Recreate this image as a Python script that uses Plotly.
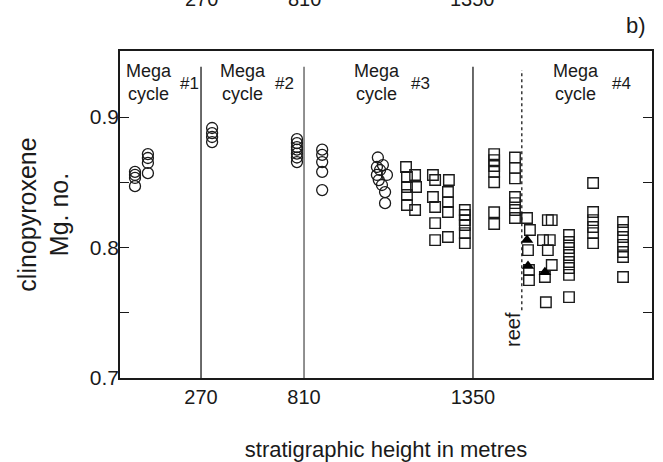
import numpy as np
import plotly.graph_objects as go

# ---- axis scale (schematic, piecewise in stratigraphic height) ----
H_BREAKS = [0, 270, 810, 1350, 1900]          # metres
AX_BREAKS = [0.0, 0.1523, 0.3459, 0.6635, 1.0]  # relative axis position
X_TICKS = [270, 810, 1350]
X_TICK_TEXT = ["270", "810", "1350"]

def pos(h):
    return np.interp(np.asarray(h, dtype=float), H_BREAKS, AX_BREAKS)

# ---- data: open circles (megacycles 1-3) ----
circ_h = [50, 50, 50, 50, 93, 93, 93, 93,
          328, 328, 328, 328,
          773, 773, 773, 773, 773, 773, 773,
          868, 868, 868, 868, 868,
          1046, 1043, 1053, 1062, 1075, 1043, 1049, 1059, 1069, 1069]
circ_mg = [0.858, 0.8556, 0.8533, 0.847, 0.8716, 0.8686, 0.8648, 0.857,
           0.8916, 0.8877, 0.8847, 0.8808,
           0.883, 0.880, 0.877, 0.875, 0.872, 0.869, 0.8655,
           0.875, 0.871, 0.8655, 0.858, 0.844,
           0.869, 0.8617, 0.8594, 0.8632, 0.8556, 0.8556, 0.8517, 0.8479, 0.8425, 0.834]

# ---- data: open squares ----
sq_h = [1136, 1139, 1139, 1139, 1139, 1165, 1168, 1165,
        1222, 1229, 1222, 1229, 1229, 1229,
        1273, 1270, 1270, 1270, 1270,
        1324, 1324, 1324, 1324, 1324, 1324,
        1415, 1415, 1415, 1415, 1415, 1415, 1415,
        1479, 1479, 1479, 1479, 1479, 1479, 1479,
        1516, 1525, 1519, 1522, 1522,
        1580, 1592, 1565, 1586, 1580, 1592, 1571, 1574,
        1645, 1645, 1645, 1645, 1645, 1645, 1645, 1645,
        1719, 1719, 1719, 1719, 1719, 1719,
        1811, 1811, 1811, 1811, 1811, 1811, 1811]
sq_mg = [0.8617, 0.854, 0.8464, 0.8402, 0.8326, 0.8556, 0.8464, 0.8287,
         0.8556, 0.8517, 0.8387, 0.831, 0.8187, 0.8057,
         0.8517, 0.8425, 0.8348, 0.8272, 0.808,
         0.8287, 0.8249, 0.821, 0.8172, 0.811, 0.8034,
         0.8716, 0.867, 0.8625, 0.858, 0.850, 0.827, 0.818,
         0.869, 0.861, 0.853, 0.8387, 0.834, 0.8287, 0.8226,
         0.8226, 0.8134, 0.798, 0.7828, 0.775,
         0.821, 0.821, 0.8057, 0.8057, 0.798, 0.7866, 0.7774, 0.758,
         0.8096, 0.8042, 0.7996, 0.7943, 0.7889, 0.7843, 0.779, 0.762,
         0.8494, 0.8272, 0.821, 0.8157, 0.811, 0.8034,
         0.8195, 0.8134, 0.808, 0.802, 0.7966, 0.7927, 0.7774]

# ---- data: filled triangles ----
tri_h = [1516, 1519, 1571]
tri_mg = [0.8057, 0.7858, 0.781]

# ---- annotations ----
REEF_H = 1500
CYCLES = ["#1", "#2", "#3", "#4"]
MEGA_H = [96, 490, 1043, 1667]
NUM_H = [230, 710, 1181, 1805]

FONT = "Liberation Sans, Arial, Helvetica, sans-serif"
INK = "#1a1a1a"

fig = go.Figure()
fig.add_trace(go.Scatter(x=pos(circ_h), y=circ_mg, mode="markers",
                         marker=dict(symbol="circle-open", size=11, color=INK,
                                     line=dict(width=1.3, color=INK)),
                         showlegend=False))
fig.add_trace(go.Scatter(x=pos(sq_h), y=sq_mg, mode="markers",
                         marker=dict(symbol="square-open", size=10.5, color=INK,
                                     line=dict(width=1.4, color=INK)),
                         showlegend=False))
fig.add_trace(go.Scatter(x=pos(tri_h), y=tri_mg, mode="markers",
                         marker=dict(symbol="triangle-up", size=11, color="black",
                                     line=dict(width=0)),
                         showlegend=False))

# separator lines
for h, c in zip(X_TICKS, [INK, "#555555", INK]):
    xp = float(pos(h))
    fig.add_shape(type="line", x0=xp, x1=xp, y0=0.7, y1=0.9385,
                  xref="x", yref="y", line=dict(color=c, width=1.3))

# reef dotted line
xr = float(pos(REEF_H))
fig.add_shape(type="line", x0=xr, x1=xr, y0=0.752, y1=0.936, xref="x", yref="y",
              line=dict(color=INK, width=1.3, dash="dot"))
fig.add_annotation(x=float(pos(1473)), y=0.7368, xref="x", yref="y", text="reef",
                   textangle=-90, showarrow=False,
                   font=dict(family=FONT, size=20, color=INK))

for lab, hm, hn in zip(CYCLES, MEGA_H, NUM_H):
    fig.add_annotation(x=float(pos(hm)), y=0.9265, xref="x", yref="y",
                       text="Mega<br>cycle", showarrow=False,
                       font=dict(family=FONT, size=18, color=INK))
    fig.add_annotation(x=float(pos(hn)), y=0.926, xref="x", yref="y", text=lab,
                       showarrow=False, font=dict(family=FONT, size=17, color=INK))

# panel letter and cropped labels from panel above
fig.add_annotation(x=0.97, y=1.0795, xref="paper", yref="paper", text="b)",
                   xanchor="center", yanchor="middle",
                   showarrow=False, font=dict(family=FONT, size=22, color=INK))
for h, t in zip(X_TICKS, X_TICK_TEXT):
    fig.add_annotation(x=float(pos(h)), y=1.159, xref="x", yref="paper", text=t,
                       xanchor="center", yanchor="middle",
                       showarrow=False, font=dict(family=FONT, size=20, color=INK))

fig.update_layout(
    width=663, height=462,
    margin=dict(l=120, r=11, t=51, b=84, autoexpand=False),
    paper_bgcolor="white", plot_bgcolor="white",
    font=dict(family=FONT, size=20, color=INK),
    xaxis=dict(range=[0, 1], tickvals=[float(pos(h)) for h in X_TICKS],
               ticktext=X_TICK_TEXT, ticks="", showgrid=False, zeroline=False,
               showline=True, linecolor=INK, linewidth=1.5, mirror=True,
               automargin=False,
               title=dict(text="stratigraphic height in metres",
                          font=dict(family=FONT, size=22, color=INK), standoff=37),
               tickfont=dict(family=FONT, size=20, color=INK)),
    yaxis=dict(range=[0.7, 0.9506], tickvals=[0.7, 0.75, 0.8, 0.85, 0.9],
               ticktext=["0.7", "", "0.8", "", "0.9"], ticks="inside", ticklen=9,
               tickwidth=1.3, tickcolor=INK, showgrid=False, zeroline=False,
               showline=True, linecolor=INK, linewidth=1.5, mirror="ticks",
               ticklabelstandoff=-5, automargin=False,
               title=dict(text="clinopyroxene<br>Mg. no.",
                          font=dict(family=FONT, size=25, color=INK), standoff=14),
               tickfont=dict(family=FONT, size=21, color=INK)),
)

fig.write_html("out.html")
